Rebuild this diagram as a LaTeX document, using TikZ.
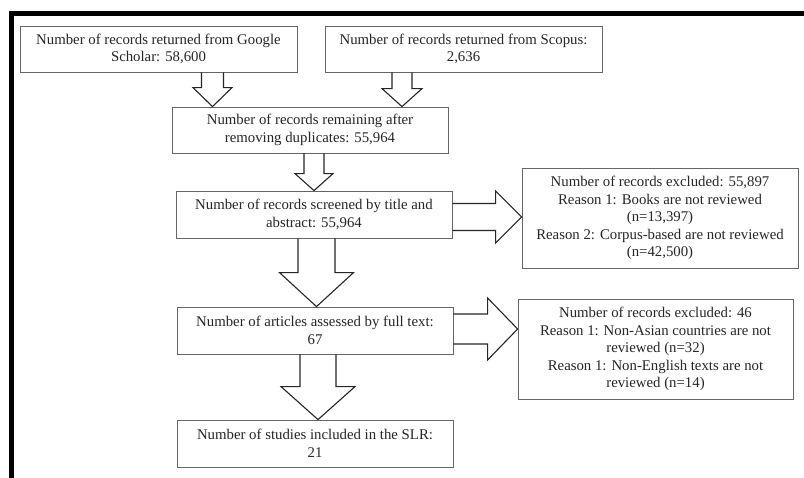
\documentclass[tikz,border=0pt]{standalone}
\usepackage{fontspec}
\setmainfont{Liberation Serif}
\usetikzlibrary{calc}
\tikzset{
  box/.style={draw=black!60, line width=0.8pt, rectangle, inner sep=0pt, align=center,
    font=\fontsize{14.8}{17.5}\selectfont, text=black!85},
  blk/.style={draw=black!85, line width=1.1pt, line join=miter},
}
\newcommand\blkdown[6]{%
  \draw[blk] let \p1=(#1.south), \p2=(#2.north) in
    ({(#3-#4)*1pt},\y1) -- ({(#3-#4)*1pt},{\y2+#6pt}) -- ({(#3-#5)*1pt},{\y2+#6pt})
    -- ({#3pt},\y2) -- ({(#3+#5)*1pt},{\y2+#6pt}) -- ({(#3+#4)*1pt},{\y2+#6pt})
    -- ({(#3+#4)*1pt},\y1);}
\newcommand\blkright[6]{%
  \draw[blk] let \p1=(#1.east), \p2=(#2.west) in
    (\x1,{-(#3-#4)*1pt}) -- ({\x2-#6pt},{-(#3-#4)*1pt}) -- ({\x2-#6pt},{-(#3-#5)*1pt})
    -- (\x2,{-#3pt}) -- ({\x2-#6pt},{-(#3+#5)*1pt}) -- ({\x2-#6pt},{-(#3+#4)*1pt})
    -- (\x1,{-(#3+#4)*1pt});}
\begin{document}
\begin{tikzpicture}[x=1pt,y=-1pt]
\useasboundingbox (0,0) rectangle (804,478);
\fill[white] (0,0) rectangle (804,478);
% frame
\fill[black] (8.5,11.5) rectangle (804,15.8);
\fill[black] (8.5,11.5) rectangle (13.6,478);
% boxes
\node[box, minimum width=277pt, minimum height=46pt] (A) at (158.5,49)
  {Number of records returned from Google\\Scholar: 58,600};
\node[box, minimum width=277pt, minimum height=46pt] (B) at (463.5,49)
  {Number of records returned from Scopus:\\2,636};
\node[box, minimum width=276pt, minimum height=46pt] (C) at (310,130)
  {Number of records remaining after\\removing duplicates: 55,964};
\node[box, minimum width=276pt, minimum height=47pt] (D) at (314,214.5)
  {Number of records screened by title and\\abstract: 55,964};
\node[box, minimum width=276pt, minimum height=47pt] (E) at (315,330.5)
  {Number of articles assessed by full text:\\67};
\node[box, minimum width=276pt, minimum height=47pt] (F) at (315,443.5)
  {Number of studies included in the SLR:\\21};
\node[box, minimum width=276pt, minimum height=100pt] (G) at (660,218)
  {Number of records excluded: 55,897\\Reason 1: Books are not reviewed\\(n=13,397)\\Reason 2: Corpus-based are not reviewed\\(n=42,500)};
\node[box, minimum width=275pt, minimum height=100pt] (H) at (655.5,349)
  {Number of records excluded: 46\\Reason 1: Non-Asian countries are not\\reviewed (n=32)\\Reason 1: Non-English texts are not\\reviewed (n=14)};
% block arrows
\blkdown{A}{C}{212.5}{11}{19.5}{19}
\blkdown{B}{C}{402}{10}{20}{18}
\blkdown{C}{D}{314}{10}{19}{17}
\blkdown{D}{E}{316.5}{18.5}{37}{34}
\blkdown{E}{F}{318}{18}{37}{33}
\blkright{D}{G}{217}{13.5}{26}{26}
\blkright{E}{H}{329}{15}{31}{30}
\end{tikzpicture}
\end{document}
